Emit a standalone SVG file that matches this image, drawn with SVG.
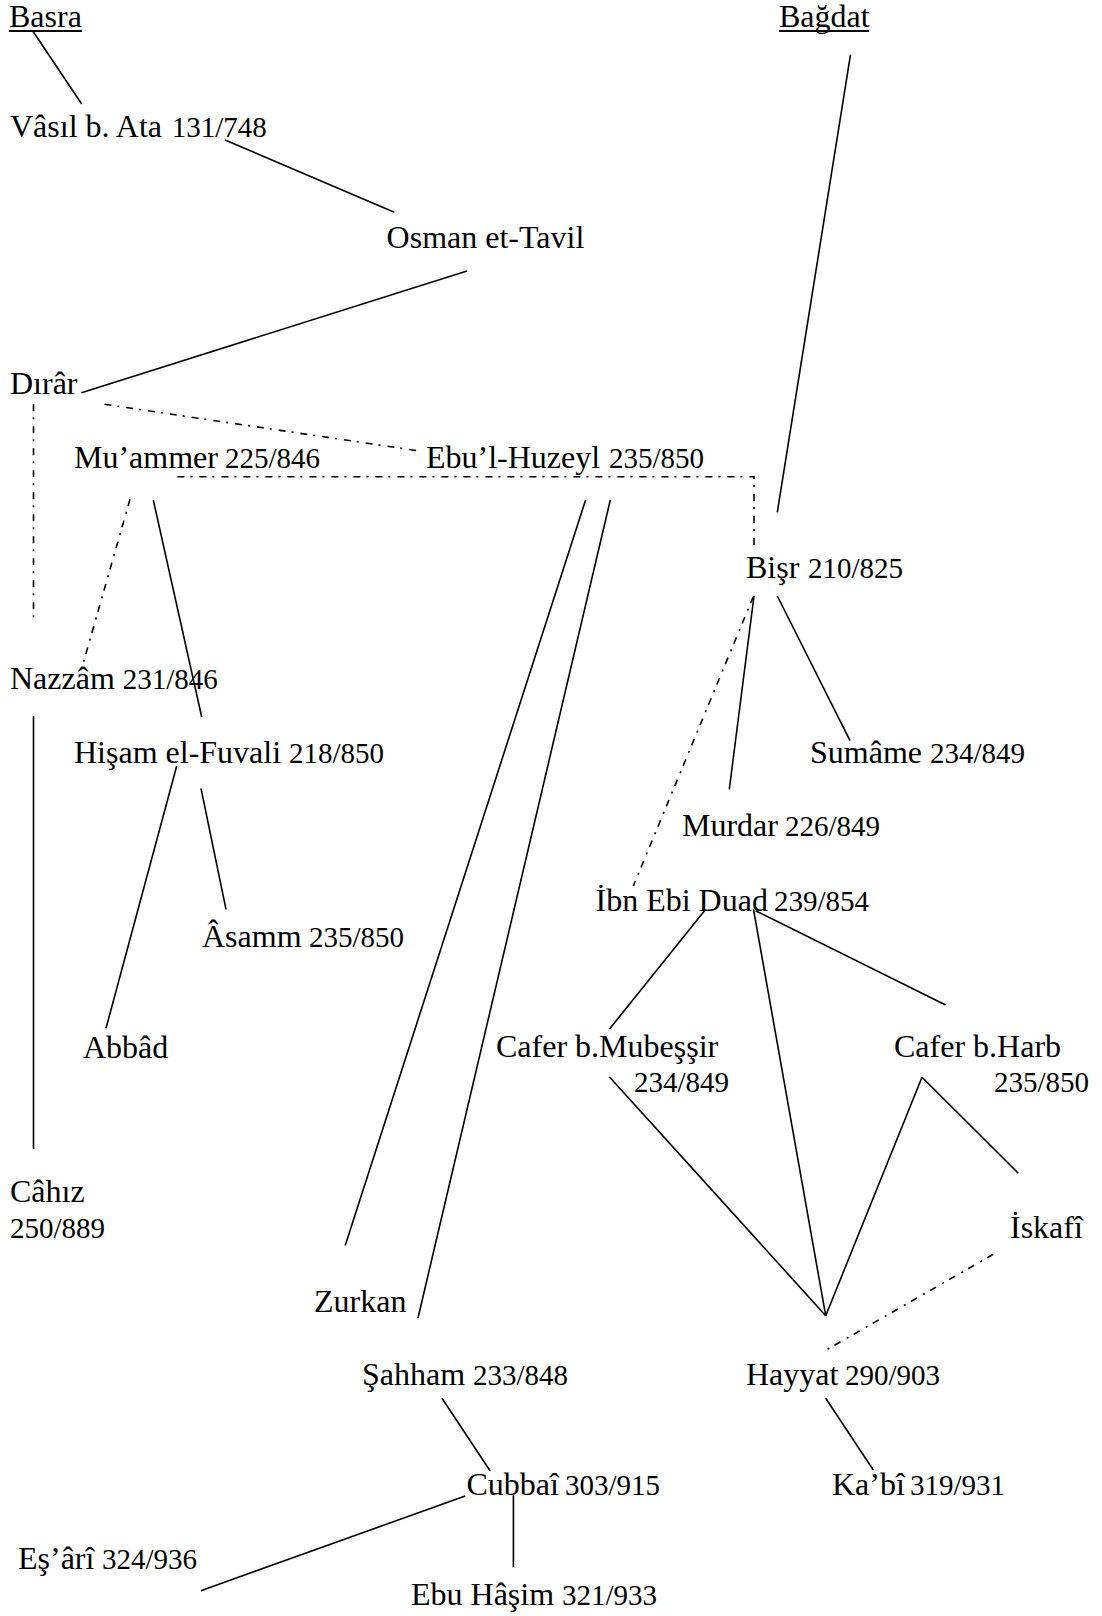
<svg xmlns="http://www.w3.org/2000/svg" width="1102" height="1616" viewBox="0 0 1102 1616">
<style>
text{font-family:"Liberation Serif","Times New Roman",serif;font-size:32px;fill:#000}
.d{font-size:29px}
.s{stroke:#000;stroke-width:1.6;fill:none}
.dd{stroke:#000;stroke-width:1.6;fill:none;stroke-dasharray:7 6 2 7}
.u{stroke:#000;stroke-width:1.8}
</style>
<rect width="1102" height="1616" fill="#fff"/>
<g id="basra"><text x="9" y="27">Basra</text><line class="u" x1="9" y1="31" x2="82" y2="31"/></g>
<g id="bagdat"><text x="779" y="27">Bağdat</text><line class="u" x1="779" y1="31" x2="869" y2="31"/></g>
<g id="vasil"><text x="10" y="137">Vâsıl b. Ata <tspan class="d" x="171.7">131/748</tspan></text></g>
<g id="osman"><text x="386.6" y="247.6">Osman et-Tavil</text></g>
<g id="dirar"><text x="10" y="394">Dırâr</text></g>
<g id="muammer"><text x="74" y="468">Mu’ammer <tspan class="d" x="225">225/846</tspan></text></g>
<g id="huzeyl"><text x="426" y="468">Ebu’l-Huzeyl <tspan class="d" x="609">235/850</tspan></text></g>
<g id="bisr"><text x="746" y="578">Bişr <tspan class="d" x="808">210/825</tspan></text></g>
<g id="nazzam"><text x="10" y="689">Nazzâm <tspan class="d" x="122.7">231/846</tspan></text></g>
<g id="hisam"><text x="74" y="763">Hişam el-Fuvali <tspan class="d" x="289">218/850</tspan></text></g>
<g id="sumame"><text x="810" y="763">Sumâme <tspan class="d" x="930">234/849</tspan></text></g>
<g id="murdar"><text x="682" y="836">Murdar <tspan class="d" x="785">226/849</tspan></text></g>
<g id="ibnebiduad"><text x="595.5" y="910.5">İbn Ebi Duad <tspan class="d" x="774">239/854</tspan></text></g>
<g id="asamm"><text x="202" y="946.5">Âsamm <tspan class="d" x="309">235/850</tspan></text></g>
<g id="abbad"><text x="83" y="1057.5">Abbâd</text></g>
<g id="mubessir"><text x="496" y="1057">Cafer b.Mubeşşir</text><text class="d" x="634" y="1092">234/849</text></g>
<g id="harb"><text x="894" y="1057">Cafer b.Harb</text><text class="d" x="994" y="1092">235/850</text></g>
<g id="cahiz"><text x="10" y="1202">Câhız</text><text class="d" x="10" y="1238">250/889</text></g>
<g id="iskafi"><text x="1010" y="1238">İskafî</text></g>
<g id="zurkan"><text x="314" y="1312">Zurkan</text></g>
<g id="sahham"><text x="362" y="1385">Şahham <tspan class="d" x="473">233/848</tspan></text></g>
<g id="hayyat"><text x="746" y="1385">Hayyat <tspan class="d" x="845">290/903</tspan></text></g>
<g id="cubbai"><text x="466.5" y="1495">Cubbaî <tspan class="d" x="565">303/915</tspan></text></g>
<g id="kabi"><text x="832" y="1495">Ka’bî <tspan class="d" x="910">319/931</tspan></text></g>
<g id="esari"><text x="18" y="1568.5">Eş’ârî <tspan class="d" x="102">324/936</tspan></text></g>
<g id="ebuhasim"><text x="411" y="1605">Ebu Hâşim <tspan class="d" x="562">321/933</tspan></text></g>
<g id="connectors">
<line class="s" x1="33.3" y1="31.7" x2="81.7" y2="104"/>
<line class="s" x1="225" y1="140" x2="394.3" y2="212.3"/>
<line class="s" x1="467" y1="271" x2="81.5" y2="392.7"/>
<line class="s" x1="850.5" y1="54.6" x2="777.3" y2="512.3"/>
<line class="s" x1="153.3" y1="500" x2="201.7" y2="717"/>
<line class="s" x1="33.5" y1="716" x2="33.5" y2="1149"/>
<line class="s" x1="176.7" y1="766" x2="106" y2="1028.3"/>
<line class="s" x1="201" y1="788.3" x2="226" y2="909.3"/>
<line class="s" x1="585.6" y1="500" x2="345.2" y2="1245.5"/>
<line class="s" x1="610.3" y1="500" x2="418" y2="1318"/>
<line class="s" x1="754" y1="596" x2="729.3" y2="789.3"/>
<line class="s" x1="777.3" y1="596" x2="850" y2="740.7"/>
<line class="s" x1="704.5" y1="910.7" x2="609.3" y2="1029.3"/>
<line class="s" x1="753.5" y1="909.3" x2="825.7" y2="1315.7"/>
<line class="s" x1="755.6" y1="910.7" x2="945.6" y2="1005"/>
<line class="s" x1="609.3" y1="1076.7" x2="825.7" y2="1315.7"/>
<line class="s" x1="922" y1="1077.3" x2="825.7" y2="1315.7"/>
<line class="s" x1="922" y1="1077.3" x2="1018.3" y2="1173.3"/>
<line class="s" x1="825.7" y1="1398.3" x2="873.3" y2="1470"/>
<line class="s" x1="442" y1="1398.3" x2="490.2" y2="1471"/>
<line class="s" x1="465.2" y1="1496" x2="200.9" y2="1590.7"/>
<line class="s" x1="513.4" y1="1495" x2="513.4" y2="1567.3"/>
<line class="dd" x1="104.5" y1="404.3" x2="419.5" y2="451"/>
<line class="dd" x1="33.5" y1="404.3" x2="33.5" y2="620"/>
<polyline class="dd" points="177.4,476.7 754,476.7 754,549.3"/>
<line class="dd" x1="130" y1="499.3" x2="82.7" y2="665"/>
<line class="dd" x1="753.3" y1="596.7" x2="633.3" y2="886"/>
<line class="dd" x1="993.3" y1="1254.3" x2="825" y2="1350.7"/>
</g>
</svg>
